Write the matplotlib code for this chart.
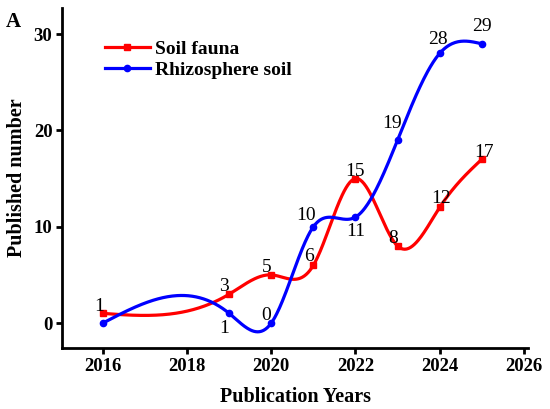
import numpy as np
import matplotlib
matplotlib.use('Agg')
import matplotlib.pyplot as plt

# Publication counts per year
years = [2016, 2019, 2020, 2021, 2022, 2023, 2024, 2025]
soil_fauna = [1, 3, 5, 6, 15, 8, 12, 17]
rhizosphere = [0, 1, 0, 10, 11, 19, 28, 29]

# label offsets (points) for each data label; negative dy -> label below point
fauna_offsets = [(-3, 1.5), (-4, 2), (-3.5, 2), (-3.5, 3), (0, 2), (-3, 2), (1, 3), (2, 2)]
rhizo_offsets = [None, (-4, -5), (-3.5, 2), (-5, 5), (0, -4), (-4, 9), (-1, 7), (0, 9)]


def natural_spline(x, y, n=400):
    x = np.asarray(x, float)
    y = np.asarray(y, float)
    k = len(x)
    h = np.diff(x)
    A = np.zeros((k, k))
    b = np.zeros(k)
    A[0, 0] = A[-1, -1] = 1
    for i in range(1, k - 1):
        A[i, i - 1] = h[i - 1]
        A[i, i] = 2 * (h[i - 1] + h[i])
        A[i, i + 1] = h[i]
        b[i] = 6 * ((y[i + 1] - y[i]) / h[i] - (y[i] - y[i - 1]) / h[i - 1])
    M = np.linalg.solve(A, b)
    xs = np.linspace(x[0], x[-1], n)
    idx = np.clip(np.searchsorted(x, xs) - 1, 0, k - 2)
    x0, x1 = x[idx], x[idx + 1]
    hh = x1 - x0
    t0, t1 = x1 - xs, xs - x0
    ys = (M[idx] * t0 ** 3 + M[idx + 1] * t1 ** 3) / (6 * hh) \
        + (y[idx] / hh - M[idx] * hh / 6) * t0 \
        + (y[idx + 1] / hh - M[idx + 1] * hh / 6) * t1
    return xs, ys


plt.rcParams['font.family'] = ['Liberation Serif', 'DejaVu Serif']

fig, ax = plt.subplots(figsize=(5.5, 4.09), dpi=100)
fig.subplots_adjust(left=0.113, right=0.96, bottom=0.149, top=0.98)

red = '#ff0000'
blue = '#0000ff'

xs, ys = natural_spline(years, soil_fauna)
ax.plot(xs, ys, color=red, linewidth=2.3)
ax.plot(years, soil_fauna, 's', color=red, markersize=4.5)
ax.plot([], [], '-s', color=red, linewidth=2.3, markersize=4.5, label='Soil fauna')

xs, ys = natural_spline(years, rhizosphere)
ax.plot(xs, ys, color=blue, linewidth=2.3)
ax.plot(years, rhizosphere, 'o', color=blue, markersize=4.5)
ax.plot([], [], '-o', color=blue, linewidth=2.3, markersize=4.5, label='Rhizosphere soil')

for x, y, off in zip(years, soil_fauna, fauna_offsets):
    ax.annotate(str(y), (x, y), xytext=off, textcoords='offset points',
                ha='center', va='baseline' if off[1] > 0 else 'top', fontsize=14)
for x, y, off in zip(years, rhizosphere, rhizo_offsets):
    if off is None:
        continue
    ax.annotate(str(y), (x, y), xytext=off, textcoords='offset points',
                ha='center', va='baseline' if off[1] > 0 else 'top', fontsize=14)

ax.set_xlim(2015.03, 2026.1)
ax.set_ylim(-2.6, 32.7)
ax.set_xticks([2016, 2018, 2020, 2022, 2024, 2026])
ax.set_yticks([0, 10, 20, 30])

ax.spines['top'].set_visible(False)
ax.spines['right'].set_visible(False)
ax.spines['left'].set_linewidth(2)
ax.spines['bottom'].set_linewidth(2)
ax.tick_params(width=2, length=4, labelsize=13.5, pad=3)
for lbl in ax.get_xticklabels() + ax.get_yticklabels():
    lbl.set_fontweight('bold')

ax.set_xlabel('Publication Years', fontsize=14.5, fontweight='bold', labelpad=9)
ax.set_ylabel('Published number', fontsize=14.5, fontweight='bold', labelpad=5)

ax.legend(loc='upper left', bbox_to_anchor=(0.092, 0.906), frameon=False,
          prop={'weight': 'bold', 'size': 14}, handlelength=2.3,
          labelspacing=0.2, handletextpad=0.25, borderpad=0, borderaxespad=0)

fig.text(0.01, 0.935, 'A', fontsize=15, fontweight='bold')

fig.savefig('out.png', dpi=100)
